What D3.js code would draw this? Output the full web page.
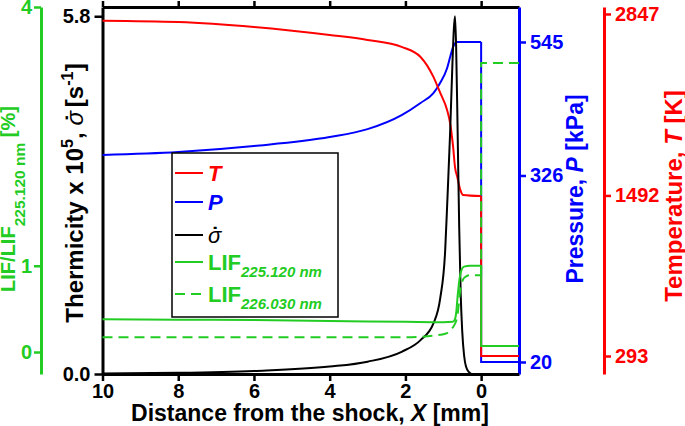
<!DOCTYPE html>
<html>
<head>
<meta charset="utf-8">
<script src="https://cdn.jsdelivr.net/npm/d3@7"></script>
<style>
  body { margin: 0; background: #fff; }
  #svg-container { width: 685px; height: 426px; }
  svg { display: block; font-family: "Liberation Sans", Arial, sans-serif; font-weight: bold; }
</style>
</head>
<body>
<div id="svg-container"></div>
<script>
////////////////////////////  Data  ////////////////////////////
// distance from the shock X [mm], shocked side (10 -> 0)
const distT = [10, 8, 6, 4, 3, 2.1, 1.6, 1.26, 1.08, 0.9, 0.82, 0.74, 0.69, 0.63, 0.55, 0.48, 0];
const temperature = [2797, 2787, 2750, 2690, 2653, 2601, 2526, 2377, 2257, 2130, 2033, 1854, 1704, 1630, 1533, 1496, 1488];

const distP = [10, 8, 6, 4, 3, 2.1, 1.6, 1.26, 1.08, 0.9, 0.82, 0.74, 0.63, 0.5, 0];
const pressure = [359.6, 364.5, 374.4, 389, 402, 425, 445, 461, 478, 502, 520, 537, 545, 545, 545];

const distS = [10, 8, 6, 4, 3, 2.1, 1.6, 1.26, 1.08, 0.95, 0.9, 0.82, 0.76, 0.72, 0.69, 0.66, 0.62, 0.58, 0.54, 0.5, 0.45, 0.4, 0.32, 0.25, 0];
const thermicity = [0.01, 0.02, 0.05, 0.12, 0.2, 0.36, 0.55, 0.82, 1.23, 2.0, 2.7, 3.9, 5.0, 5.6, 5.8, 5.3, 3.9, 2.4, 1.3, 0.7, 0.3, 0.12, 0.03, 0, 0];

const distL1 = [10, 8, 6, 4, 2, 1, 0.75, 0.7, 0.66, 0.62, 0.57, 0.52, 0.45, 0.3, 0];
const lif225 = [0.38, 0.375, 0.37, 0.36, 0.35, 0.345, 0.35, 0.37, 0.45, 0.65, 0.85, 0.95, 0.99, 1.0, 1.0];

const distL2 = [10, 6, 2, 1.08, 0.9, 0.82, 0.74, 0.63, 0.55, 0.48, 0.42, 0.3, 0];
const lif226 = [0.17, 0.17, 0.17, 0.2, 0.22, 0.26, 0.29, 0.41, 0.72, 0.84, 0.87, 0.89, 0.89];

// unshocked side (0 -> -1)
const distPre = [0, -1];
const temperaturePre = [293, 293];
const pressurePre = [20, 20];
const thermicityPre = [0, 0];
const lif225Pre = [0.07, 0.07];
const lif226Pre = [3.35, 3.35];

// ticks
const xTicks = [10, 8, 6, 4, 2, 0];
const thermTicks = [0, 5.8];
const lifTicks = [0, 1, 4];
const presTicks = [20, 326, 545];
const tempTicks = [293, 1492, 2847];

////////////////////////////  Init  ////////////////////////////
const width = 685;
const height = 426;
const svg = d3.select("#svg-container").append("svg")
  .attr("width", width).attr("height", height);

const plot = { left: 102.5, right: 519, top: 7, bottom: 374 };
const GREEN = "#22cc22", BLUE = "#0000ff", RED = "#ff0000";

// scales
const xScale = d3.scaleLinear().domain([10, -1]).range([plot.left, plot.right]);
const yTherm = d3.scaleLinear().domain([0, 5.95]).range([plot.bottom, plot.top]);
const yPres = d3.scaleLinear().domain([0.3, 602.4]).range([plot.bottom, plot.top]);
const yTemp = d3.scaleLinear().domain([158.6, 2899]).range([plot.bottom, plot.top]);
const yLif = d3.scaleLinear().domain([-0.255, 4]).range([plot.bottom, plot.top]);

////////////////////////////  Axes  ////////////////////////////
function styleAxis(g, color, size) {
  g.select(".domain").attr("stroke", color).attr("stroke-width", 3);
  g.selectAll(".tick line").attr("stroke", color).attr("stroke-width", 2.5);
  g.selectAll(".tick text").attr("fill", color)
    .style("font-size", size + "px").style("font-weight", "bold")
    .style("font-family", "'Liberation Sans', Arial, sans-serif");
}

// bottom + top frame
svg.append("g")
  .attr("transform", `translate(0,${plot.bottom})`)
  .call(d3.axisBottom(xScale).tickValues(xTicks).tickSize(7).tickPadding(3).tickSizeOuter(0))
  .call((g) => styleAxis(g, "#000", 20));

svg.append("g")
  .attr("transform", `translate(0,${plot.top})`)
  .call(d3.axisTop(xScale).tickValues(xTicks).tickFormat("").tickSize(6).tickSizeOuter(0))
  .call((g) => styleAxis(g, "#000", 20));

// thermicity
svg.append("g")
  .attr("transform", `translate(${plot.left},0)`)
  .call(d3.axisLeft(yTherm).tickValues(thermTicks).tickFormat(d3.format(".1f")).tickSize(8).tickPadding(4).tickSizeOuter(0))
  .call((g) => styleAxis(g, "#000", 20));

// LIF
svg.append("g")
  .attr("transform", "translate(41,0)")
  .call(d3.axisLeft(yLif).tickValues(lifTicks).tickFormat(d3.format("d")).tickSize(7).tickPadding(2).tickSizeOuter(0))
  .call((g) => styleAxis(g, GREEN, 20));

// pressure
svg.append("g")
  .attr("transform", `translate(${plot.right},0)`)
  .call(d3.axisRight(yPres).tickValues(presTicks).tickFormat(d3.format("d")).tickSize(7).tickPadding(4).tickSizeOuter(0))
  .call((g) => styleAxis(g, BLUE, 20));

// temperature
svg.append("g")
  .attr("transform", "translate(604,0)")
  .call(d3.axisRight(yTemp).tickValues(tempTicks).tickFormat(d3.format("d")).tickSize(7).tickPadding(4).tickSizeOuter(0))
  .call((g) => styleAxis(g, RED, 20));

////////////////////////////  Lines  ////////////////////////////
function drawSeries(xs, ys, xsPre, ysPre, yScale, color, dash) {
  const smooth = d3.line().curve(d3.curveMonotoneX)
    .x((d) => xScale(d[0])).y((d) => yScale(d[1]));
  const straight = d3.line()
    .x((d) => xScale(d[0])).y((d) => yScale(d[1]));
  const post = xs.map((x, i) => [x, ys[i]]);
  const jump = [post[post.length - 1]].concat(xsPre.map((x, i) => [x, ysPre[i]]));
  [[post, smooth], [jump, straight]].forEach(([pts, gen]) => {
    svg.append("path")
      .datum(pts)
      .attr("d", gen)
      .attr("fill", "none")
      .attr("stroke", color)
      .attr("stroke-width", 2)
      .attr("stroke-dasharray", dash || null);
  });
}

drawSeries(distP, pressure, distPre, pressurePre, yPres, BLUE);
drawSeries(distT, temperature, distPre, temperaturePre, yTemp, RED);
drawSeries(distS, thermicity, distPre, thermicityPre, yTherm, "#000");
drawSeries(distL1, lif225, distPre, lif225Pre, yLif, GREEN);
drawSeries(distL2, lif226, distPre, lif226Pre, yLif, GREEN, "10,6");

////////////////////////////  Texts  ////////////////////////////
// parts: {t, it, sup, sub, fs, fw, shift}
function richText(sel, parts, base) {
  let shift = 0;
  parts.forEach((p) => {
    let target = 0;
    if (p.sup) target = -0.42 * base;
    if (p.sub) target = p.shift || 0.3 * base;
    const ts = sel.append("tspan")
      .attr("dy", target - shift)
      .style("font-size", (p.sup || p.sub ? (p.fs || base * 0.68) : base) + "px")
      .style("font-style", p.it ? "italic" : "normal")
      .style("font-weight", p.fw || "bold")
      .text(p.t);
    shift = target;
    if (p.dot) {
      // dot above sigma
      sel.append("tspan")
        .attr("dx", "-0.45em").attr("dy", 0)
        .style("font-size", base + "px")
        .style("font-weight", "bold")
        .style("font-style", "normal")
        .text("\u02d9");
      sel.append("tspan").attr("dx", "0.12em").text("");
    }
  });
}

function rotLabel(x, y, color, parts, size) {
  const t = svg.append("text")
    .attr("transform", `translate(${x},${y}) rotate(-90)`)
    .attr("text-anchor", "middle")
    .attr("fill", color);
  richText(t, parts, size);
}

// x label
const xl = svg.append("text").attr("x", 310).attr("y", 421).attr("text-anchor", "middle");
richText(xl, [{ t: "Distance from the shock, " }, { t: "X", it: true }, { t: " [mm]" }], 23);

rotLabel(83, 193, "#000", [
  { t: "Thermicity x 10" }, { t: "5", sup: true }, { t: ", " },
  { t: "\u03c3", it: true, fw: "normal", dot: true }, { t: " [s" }, { t: "-1", sup: true }, { t: "]" }
], 24);

rotLabel(15, 199, GREEN, [
  { t: "LIF/LIF" }, { t: "225.120 nm", sub: true, fs: 15.5, shift: 10 }, { t: " [%]" }
], 20);

rotLabel(583, 189, BLUE, [{ t: "Pressure, " }, { t: "P", it: true }, { t: " [kPa]" }], 23);

rotLabel(682, 196, RED, [{ t: "Temperature, " }, { t: "T", it: true }, { t: " [K]" }], 24);

////////////////////////////  Legend  ////////////////////////////
const legendRows = [
  { color: RED, parts: [{ t: "T", it: true }] },
  { color: BLUE, parts: [{ t: "P", it: true }] },
  { color: "#000", parts: [{ t: "\u03c3", it: true, fw: "normal", dot: true }] },
  { color: GREEN, parts: [{ t: "LIF" }, { t: "225.120 nm", sub: true, it: true, fs: 15 }] },
  { color: GREEN, dash: "10,6", parts: [{ t: "LIF" }, { t: "226.030 nm", sub: true, it: true, fs: 15 }] }
];
const legendY = [173, 202, 235, 262, 294];

svg.append("rect")
  .attr("x", 172).attr("y", 153).attr("width", 166).attr("height", 164)
  .attr("fill", "#fff").attr("stroke", "#000").attr("stroke-width", 1.5);

legendRows.forEach((r, i) => {
  const y = legendY[i];
  svg.append("line")
    .attr("x1", 175).attr("x2", 203).attr("y1", y).attr("y2", y)
    .attr("stroke", r.color).attr("stroke-width", 2)
    .attr("stroke-dasharray", r.dash || null);
  const t = svg.append("text").attr("x", 208).attr("y", y + 8).attr("fill", r.color);
  richText(t, r.parts, 22);
});
</script>
</body>
</html>
